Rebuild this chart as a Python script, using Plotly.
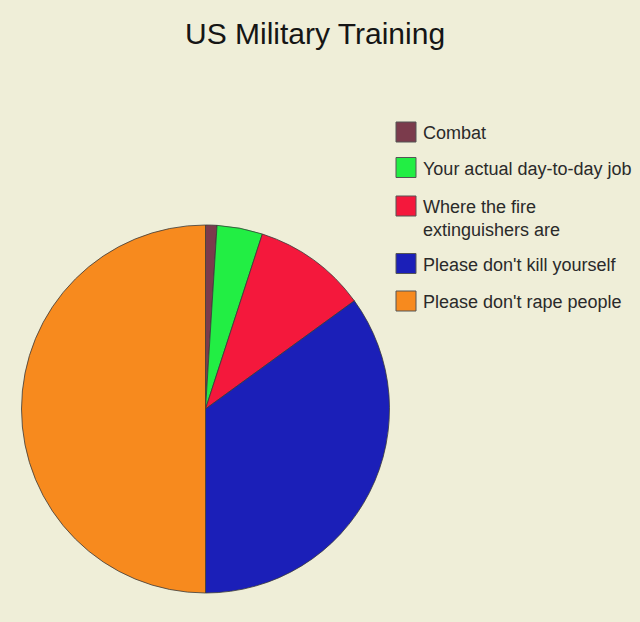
import plotly.graph_objects as go

title = "US Military Training"
labels = ["Combat", "Your actual day-to-day job", "Where the fire<br>extinguishers are",
          "Please don't kill yourself", "Please don't rape people"]
values = [1, 4, 10, 35, 50]
colors = ["#7b3b4c", "#22ee44", "#f4183c", "#1b1fb8", "#f78a1e"]

W, H = 640, 622
cx, cy, r = 205.5, 409, 184

fig = go.Figure(go.Pie(
    labels=labels, values=values, sort=False, direction="clockwise", rotation=0,
    marker=dict(colors=colors, line=dict(color="#3a3a3a", width=0.8)),
    textinfo="none", hoverinfo="label+percent", showlegend=False,
    domain=dict(x=[(cx - r) / W, (cx + r) / W], y=[1 - (cy + r) / H, 1 - (cy - r) / H]),
))

# legend drawn as boxes + text
box_centers = [132, 167.5, 206, 263.5, 301]
shapes, annos = [], []
for lab, col, yc in zip(labels, colors, box_centers):
    shapes.append(dict(type="rect", xref="paper", yref="paper",
                       x0=396 / W, x1=416 / W, y0=1 - (yc + 10) / H, y1=1 - (yc - 10) / H,
                       fillcolor=col, line=dict(color="#555555", width=1)))
    annos.append(dict(xref="paper", yref="paper", x=421 / W, y=1 - (yc - 11) / H,
                      xanchor="left", yanchor="top", text=lab, showarrow=False, align="left",
                      font=dict(family="Liberation Sans, Arial, sans-serif", size=18, color="#2a2a2a")))

annos.append(dict(xref="paper", yref="paper", x=315 / W, y=1 - 33 / H, xanchor="center",
                  yanchor="middle", text=title, showarrow=False,
                  font=dict(family="Liberation Sans, Arial, sans-serif", size=30, color="#151515")))

fig.update_layout(
    width=W, height=H, margin=dict(l=0, r=0, t=0, b=0),
    paper_bgcolor="#efeed8", plot_bgcolor="#efeed8",
    shapes=shapes, annotations=annos,
)
fig.write_html("out.html", config={"displayModeBar": False},
               post_script="document.body.style.margin='0';")
